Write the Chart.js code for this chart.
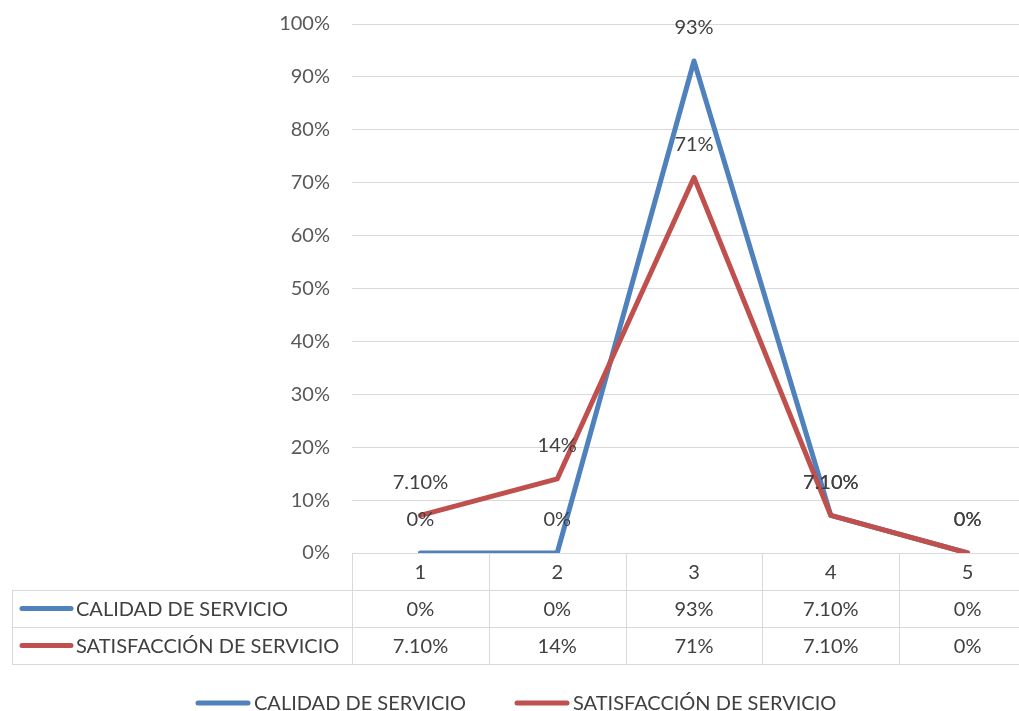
<!DOCTYPE html>
<html>
<head>
<meta charset="utf-8">
<script src="https://cdn.jsdelivr.net/npm/chart.js@4.4.1/dist/chart.umd.min.js"></script>
<style>
  html, body { margin: 0; padding: 0; background: #ffffff; overflow: hidden; }
  #wrap { width: 1040px; height: 711px; }
</style>
</head>
<body>
<div id="wrap"><canvas id="chart" width="1040" height="711"></canvas></div>
<script>
// Survey response scale and share of answers per level
const categories = ['1', '2', '3', '4', '5'];
const calidadValues = [0, 0, 0.93, 0.071, 0];
const satisfaccionValues = [0.071, 0.14, 0.71, 0.071, 0];
const calidadLabels = ['0%', '0%', '93%', '7.10%', '0%'];
const satisfaccionLabels = ['7.10%', '14%', '71%', '7.10%', '0%'];
const seriesNames = ['CALIDAD DE SERVICIO', 'SATISFACCIÓN DE SERVICIO'];
const seriesColors = ['#4f81bd', '#c0504d'];

const FONT = 'Lato, "Open Sans", sans-serif';
const FSIZE = 20;
const TEXT = '#404040';
const GRID = '#d9d9d9';

// Draws point value labels, the data table under the plot and the legend
const tablePlugin = {
  id: 'tableAndLabels',
  afterDatasetsDraw(chart) {
    const ctx = chart.ctx;
    const xs = chart.scales.x;
    const ys = chart.scales.y;
    const area = chart.chartArea;
    const labelSets = [calidadLabels, satisfaccionLabels];
    ctx.save();
    ctx.font = FSIZE + 'px ' + FONT;
    ctx.fillStyle = TEXT;
    ctx.textAlign = 'center';
    ctx.textBaseline = 'middle';
    chart.data.datasets.forEach((ds, di) => {
      ds.data.forEach((v, i) => {
        ctx.fillText(labelSets[di][i], xs.getPixelForValue(i), ys.getPixelForValue(v) - 33);
      });
    });

    // data table
    const left = 12;
    const right = chart.width;
    const top = area.bottom;
    const rowH = 37;
    const band = (area.right - area.left) / categories.length;
    ctx.strokeStyle = GRID;
    ctx.lineWidth = 1;
    ctx.beginPath();
    for (let r = 1; r <= 3; r++) {
      const y = Math.round(top + r * rowH) + 0.5;
      ctx.moveTo(left, y); ctx.lineTo(right, y);
    }
    for (let c = 0; c <= categories.length; c++) {
      const x = Math.round(area.left + c * band) + 0.5;
      ctx.moveTo(x, top); ctx.lineTo(x, top + 3 * rowH);
    }
    ctx.moveTo(left + 0.5, top + rowH); ctx.lineTo(left + 0.5, top + 3 * rowH);
    ctx.stroke();

    ctx.fillStyle = TEXT;
    categories.forEach((c, i) => {
      ctx.fillText(c, xs.getPixelForValue(i), top + rowH / 2 + 1);
    });
    labelSets.forEach((set, r) => {
      const yc = top + rowH * (r + 1.5) + 1;
      set.forEach((t, i) => ctx.fillText(t, xs.getPixelForValue(i), yc));
      ctx.strokeStyle = seriesColors[r];
      ctx.lineWidth = 5;
      ctx.lineCap = 'round';
      ctx.beginPath();
      ctx.moveTo(22, yc - 1); ctx.lineTo(71, yc - 1);
      ctx.stroke();
      ctx.textAlign = 'left';
      ctx.fillText(seriesNames[r], 76, yc);
      ctx.textAlign = 'center';
    });

    // legend
    const ly = 703;
    const entries = [{x: 198}, {x: 517}];
    entries.forEach((e, r) => {
      ctx.strokeStyle = seriesColors[r];
      ctx.lineWidth = 5;
      ctx.beginPath();
      ctx.moveTo(e.x, ly); ctx.lineTo(e.x + 50, ly);
      ctx.stroke();
      ctx.textAlign = 'left';
      ctx.fillStyle = TEXT;
      ctx.fillText(seriesNames[r], e.x + 56, ly + 1);
    });
    ctx.restore();
  }
};

new Chart(document.getElementById('chart'), {
  type: 'line',
  data: {
    labels: categories,
    datasets: [
      {
        label: seriesNames[0],
        data: calidadValues,
        borderColor: seriesColors[0],
        backgroundColor: seriesColors[0],
        borderWidth: 5,
        pointRadius: 0,
        borderCapStyle: 'round',
        borderJoinStyle: 'round',
        tension: 0,
        order: 1
      },
      {
        label: seriesNames[1],
        data: satisfaccionValues,
        borderColor: seriesColors[1],
        backgroundColor: seriesColors[1],
        borderWidth: 5,
        pointRadius: 0,
        borderCapStyle: 'round',
        borderJoinStyle: 'round',
        tension: 0,
        order: 0
      }
    ]
  },
  options: {
    responsive: false,
    animation: false,
    layout: { autoPadding: false, padding: { left: 0, top: 24, right: 4, bottom: 158 } },
    plugins: { legend: { display: false }, tooltip: { enabled: false } },
    scales: {
      x: {
        display: false,
        offset: true
      },
      y: {
        min: 0,
        max: 1,
        afterFit(scale) { scale.width = 352; },
        border: { display: false },
        grid: { color: GRID, lineWidth: 1, drawTicks: true, tickLength: 22, tickColor: 'rgba(0,0,0,0)' },
        ticks: {
          stepSize: 0.1,
          padding: 0,
          color: '#595959',
          font: { family: FONT, size: FSIZE },
          callback: (v) => Math.round(v * 100) + '%'
        }
      }
    }
  },
  plugins: [tablePlugin]
});
</script>
</body>
</html>
